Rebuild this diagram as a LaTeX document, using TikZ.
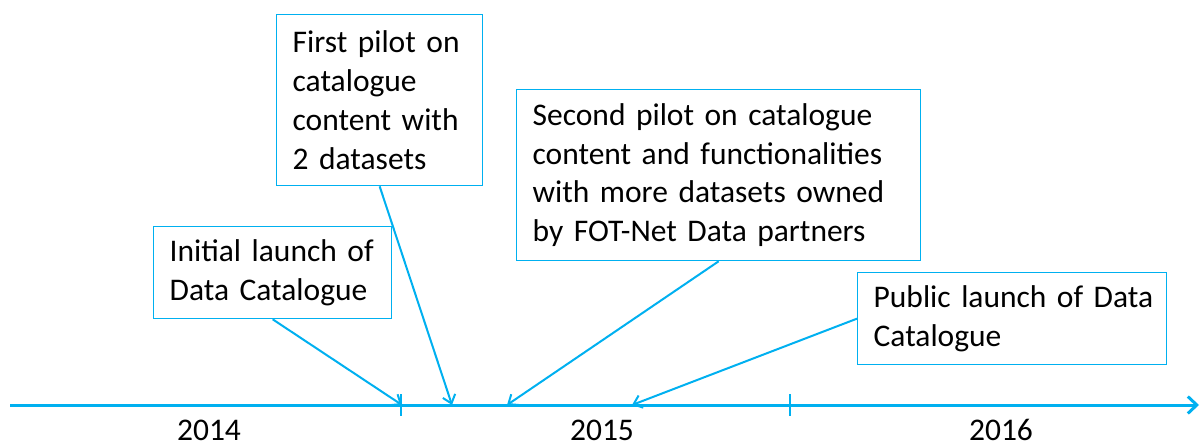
\documentclass[tikz,border=0pt]{standalone}
\usepackage{fontspec}
\setmainfont{Carlito}
\usetikzlibrary{arrows.meta}
\definecolor{tlblue}{HTML}{00B0F0}
\newcommand{\tlfont}{\fontsize{31.5}{38.7}\selectfont}
\tikzset{
	milestone/.style={draw=tlblue, line width=1.3pt, anchor=north west, align=left,
		inner xsep=16pt, inner ysep=0pt, text=black, font=\tlfont},
	pointer/.style={draw=tlblue, line width=2pt, -{Straight Barb[length=8pt,width=13pt]}},
	timeline/.style={draw=tlblue, line width=3pt, -{Straight Barb[length=9pt,width=17pt]}},
	yearlabel/.style={anchor=base, font=\tlfont}
}
\begin{document}
\begin{tikzpicture}[x=1pt, y=-1pt]
		\useasboundingbox (0,0) rectangle (1200,446);
		% time axis
		\coordinate (axisstart) at (10,405);
		\coordinate (axisend) at (1199,405);
		\draw [timeline] (axisstart) -- (axisend);
		\draw [tlblue, line width=2.5pt] (401,394) -- (401,416);
		\draw [tlblue, line width=2.5pt] (790,394) -- (790,416);
		\node [yearlabel] (y2014) at (209,440) {2014};
		\node [yearlabel] (y2015) at (602,440) {2015};
		\node [yearlabel] (y2016) at (1001,440) {2016};
		% events on the axis
		\coordinate (launchpt) at (402,405);
		\coordinate (pilotApt) at (452,405);
		\coordinate (pilotBpt) at (507,405);
		\coordinate (publicpt) at (632,405);
		\node [milestone, text width=206pt] (launch) at (153,226)
			[minimum height=92pt] {\mbox{Initial launch of}\\Data Catalogue};
		\node [milestone, text width=174pt] (pilotA) at (276,14)
			[minimum height=171pt] {First pilot on\\catalogue\\\mbox{content with}\\2 datasets};
		\node [milestone, text width=372pt] (pilotB) at (516,89)
			[minimum height=171pt] {\mbox{Second pilot on catalogue}\\\mbox{content and functionalities}\\\mbox{with more datasets owned}\\\mbox{by FOT-Net Data partners}};
		\node [milestone, text width=277pt] (public) at (857,272)
			[minimum height=92pt] {\mbox{Public launch of Data}\\Catalogue};
		\draw [pointer] (launch.south) -- (launchpt);
		\draw [pointer] (pilotA.south) -- (pilotApt);
		\draw [pointer] (pilotB.south) -- (pilotBpt);
		\draw [pointer] (public.west) -- (publicpt);
\end{tikzpicture}
\end{document}
